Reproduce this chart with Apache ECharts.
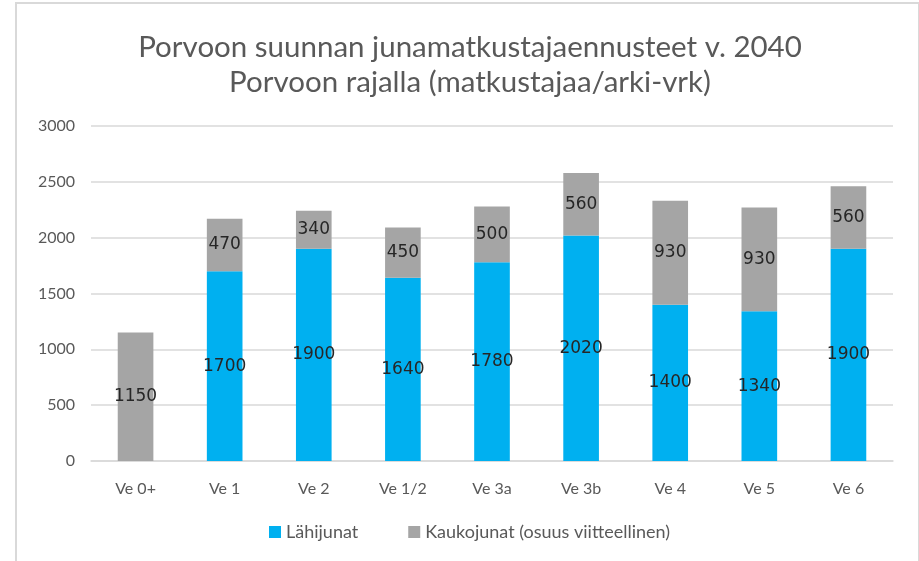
<!DOCTYPE html>
<html>
<head>
<meta charset="utf-8">
<script src="https://cdn.jsdelivr.net/npm/echarts@6/dist/echarts.min.js"></script>
<style>
	html, body { margin: 0; padding: 0; background: #fff; overflow: hidden; }
	#chart { position: absolute; left: 0; top: 0; width: 919px; height: 561px; }
	#frame { position: absolute; left: 15px; top: 2px; width: 901px; height: 580px; border: 2px solid #d9d9d9; pointer-events: none; }
</style>
</head>
<body>
<div id="chart"></div>
<div id="frame"></div>
<script>
	// vaihtoehdot
	const categories = ['Ve 0+', 'Ve 1', 'Ve 2', 'Ve 1/2', 'Ve 3a', 'Ve 3b', 'Ve 4', 'Ve 5', 'Ve 6']
	// matkustajaa / arki-vrk
	const lahijunat = [null, 1700, 1900, 1640, 1780, 2020, 1400, 1340, 1900]
	const kaukojunat = [1150, 470, 340, 450, 500, 560, 930, 930, 560]
	const yTicks = [0, 500, 1000, 1500, 2000, 2500, 3000]

	const font = 'Lato, "Liberation Sans", sans-serif'
	const textColor = '#595959'

	const labelStyle = {
		show: true,
		position: 'inside',
		color: '#262626',
		fontSize: 17,
		fontFamily: '"DejaVu Sans", sans-serif'
	}

	const chart = echarts.init(document.getElementById('chart'))
	chart.setOption({
		animation: false,
		textStyle: { fontFamily: font },
		title: {
			text: 'Porvoon suunnan junamatkustajaennusteet v. 2040\nPorvoon rajalla (matkustajaa/arki-vrk)',
			left: 465,
			top: 25,
			textAlign: 'center',
			textStyle: {
				color: textColor,
				fontSize: 29.5,
				fontWeight: 'normal',
				lineHeight: 35,
				fontFamily: font
			}
		},
		legend: {
			bottom: 15,
			left: 264,
			itemWidth: 12,
			itemHeight: 12,
			itemGap: 50,
			icon: 'rect',
			textStyle: { color: textColor, fontSize: 18, fontFamily: font },
			data: ['Lähijunat', 'Kaukojunat (osuus viitteellinen)']
		},
		grid: {
			left: 91,
			right: 26,
			top: 126,
			bottom: 100,
			containLabel: false
		},
		xAxis: {
			type: 'category',
			data: categories,
			axisTick: { show: false },
			axisLine: { lineStyle: { color: '#d9d9d9', width: 1.5 } },
			axisLabel: { color: textColor, fontSize: 16, margin: 20 }
		},
		yAxis: {
			type: 'value',
			min: yTicks[0],
			max: yTicks[yTicks.length - 1],
			interval: 500,
			axisLine: { show: false },
			axisTick: { show: false },
			axisLabel: {
				color: textColor,
				fontSize: 16,
				margin: 16,
				formatter: function(v) { return String(v) }
			},
			splitLine: { lineStyle: { color: '#d9d9d9', width: 1.5 } }
		},
		series: [{
			name: 'Lähijunat',
			type: 'bar',
			stack: 'total',
			barWidth: '40%',
			data: lahijunat,
			itemStyle: { color: '#00b0f0' },
			label: labelStyle
		}, {
			name: 'Kaukojunat (osuus viitteellinen)',
			type: 'bar',
			stack: 'total',
			barWidth: '40%',
			data: kaukojunat,
			itemStyle: { color: '#a5a5a5' },
			label: labelStyle
		}]
	})
</script>
</body>
</html>
